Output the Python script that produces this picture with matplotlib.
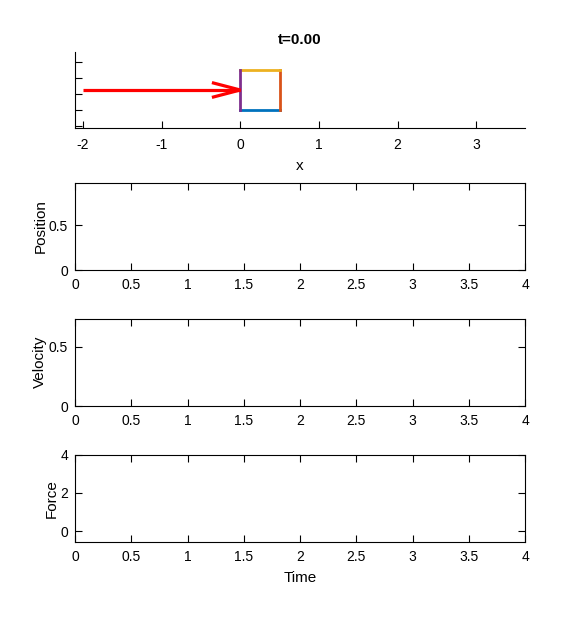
import matplotlib
matplotlib.use("Agg")
import matplotlib.pyplot as plt

plt.rcParams['font.family'] = ['Liberation Sans', 'DejaVu Sans']

# ---- data ----
t_now = 0.00
block_x = 0.0          # left edge of block
block_w = 0.5          # block width
block_h = 0.5          # block height
force_start = -2.0     # arrow tail x
time = []              # history (empty at t=0)
position = []
velocity = []
force = []

edge_colors = ['#0072BD', '#D95319', '#EDB120', '#7E2F8E']  # bottom, right, top, left

fig = plt.figure(figsize=(5.8, 6.2), dpi=100)

# ---- top scene axes ----
ax0 = fig.add_axes([75/580, 1-128/620, 450/580, 76/620])
xs = [block_x, block_x + block_w]
ys = [0, block_h]
ax0.plot([xs[0], xs[1]], [ys[0], ys[0]], color=edge_colors[0], lw=2)
ax0.plot([xs[1], xs[1]], [ys[0], ys[1]], color=edge_colors[1], lw=2)
ax0.plot([xs[0], xs[1]], [ys[1], ys[1]], color=edge_colors[2], lw=2)
ax0.plot([xs[0], xs[0]], [ys[0], ys[1]], color=edge_colors[3], lw=2)
ymid = block_h / 2
ax0.plot([force_start, block_x], [ymid, ymid], color='#FF0000', lw=2.3, solid_capstyle='butt')
ax0.plot([block_x - 0.34, block_x, block_x - 0.34], [ymid + 0.0875, ymid, ymid - 0.0875],
         color='#FF0000', lw=2.3, solid_joinstyle='miter')
ax0.set_xlim(-2.1, 3.62)
ax0.set_ylim(-0.225, 0.725)
ax0.set_xticks([-2, -1, 0, 1, 2, 3])
ax0.set_xticklabels(['-2', '-1', '0', '1', '2', '3'])
ax0.set_yticks([-0.2, 0, 0.2, 0.4, 0.6])
ax0.set_yticklabels([])
ax0.spines['top'].set_visible(False)
ax0.spines['right'].set_visible(False)
ax0.tick_params(direction='in', length=5, labelsize=10, width=0.8)
ax0.tick_params(axis='x', pad=7)
ax0.set_xlabel('x', fontsize=11, labelpad=5)
ax0.set_title(f't={t_now:.2f}', fontsize=11, fontweight='bold', pad=6)

# ---- time series axes ----
specs = [
    (270, 'Position', position, (0, 0.975), [0, 0.5], ['0', '0.5']),
    (406, 'Velocity', velocity, (0, 0.74), [0, 0.5], ['0', '0.5']),
    (542, 'Force', force, (-0.57, 4), [0, 2, 4], ['0', '2', '4']),
]
xticks = [0, 0.5, 1, 1.5, 2, 2.5, 3, 3.5, 4]
xticklabels = ['0', '0.5', '1', '1.5', '2', '2.5', '3', '3.5', '4']
for bottom, label, series, ylim, yt, ytl in specs:
    ax = fig.add_axes([75/580, 1-bottom/620, 450/580, 87.5/620])
    ax.plot(time, series, color='#0072BD')
    ax.set_xlim(0, 4)
    ax.set_ylim(*ylim)
    ax.set_xticks(xticks)
    ax.set_xticklabels(xticklabels)
    ax.set_yticks(yt)
    ax.set_yticklabels(ytl)
    ax.tick_params(direction='in', length=5, labelsize=10, width=0.8,
                   top=True, right=True)
    ax.tick_params(axis='x', pad=6)
    ax.tick_params(axis='y', pad=5)
    ax.set_ylabel(label, fontsize=11, labelpad=1)
    if label == 'Force':
        ax.set_xlabel('Time', fontsize=11, labelpad=5)

fig.savefig('out.png', dpi=100, facecolor='white')
